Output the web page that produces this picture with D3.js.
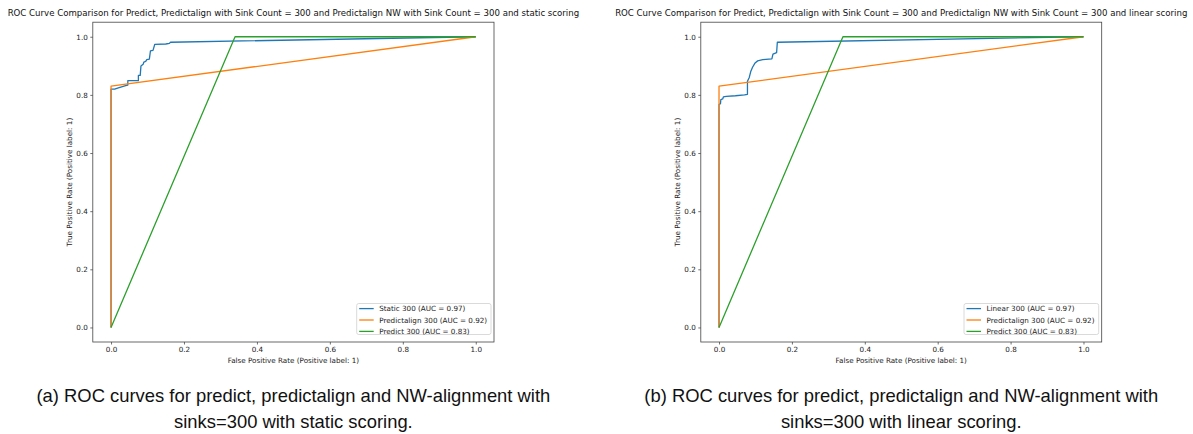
<!DOCTYPE html>
<html>
<head>
<meta charset="utf-8">
<script src="https://cdn.jsdelivr.net/npm/d3@7"></script>
<style>
  html, body { margin: 0; padding: 0; background: #fff; }
  svg { display: block; }
</style>
</head>
<body>
<svg id="chart" width="1193" height="434"></svg>
<script>
// ---------- Data ----------
const titles = [
  "ROC Curve Comparison for Predict, Predictalign with Sink Count = 300 and Predictalign NW with Sink Count = 300 and static scoring",
  "ROC Curve Comparison for Predict, Predictalign with Sink Count = 300 and Predictalign NW with Sink Count = 300 and linear scoring"
];
const captionsA = ["(a) ROC curves for predict, predictalign and NW-alignment with", "sinks=300 with static scoring."];
const captionsB = ["(b) ROC curves for predict, predictalign and NW-alignment with", "sinks=300 with linear scoring."];
const xLabel = "False Positive Rate (Positive label: 1)";
const yLabel = "True Positive Rate (Positive label: 1)";
const tickValues = [0.0, 0.2, 0.4, 0.6, 0.8, 1.0];

const legendStatic = ["Static 300 (AUC = 0.97)", "Predictalign 300 (AUC = 0.92)", "Predict 300 (AUC = 0.83)"];
const legendLinear = ["Linear 300 (AUC = 0.97)", "Predictalign 300 (AUC = 0.92)", "Predict 300 (AUC = 0.83)"];

// Static scoring (blue) ROC points [fpr, tpr]
const staticFpr = [0, 0, 0.010, 0.020, 0.040, 0.046, 0.046, 0.075, 0.075, 0.080, 0.082, 0.088, 0.090, 0.095, 0.098, 0.105, 0.108, 0.115, 0.120, 0.150, 0.160, 0.163, 1];
const staticTpr = [0, 0.820, 0.820, 0.824, 0.832, 0.834, 0.849, 0.849, 0.867, 0.867, 0.899, 0.905, 0.913, 0.915, 0.921, 0.923, 0.951, 0.953, 0.974, 0.975, 0.977, 0.981, 1];

// Linear scoring (blue) ROC points
const linearFpr = [0, 0, 0.004, 0.005, 0.010, 0.012, 0.020, 0.045, 0.070, 0.078, 0.078, 0.083, 0.087, 0.092, 0.099, 0.106, 0.120, 0.145, 0.148, 0.158, 0.160, 1];
const linearTpr = [0, 0.767, 0.770, 0.784, 0.786, 0.793, 0.795, 0.797, 0.800, 0.802, 0.847, 0.860, 0.880, 0.895, 0.910, 0.917, 0.921, 0.924, 0.940, 0.945, 0.981, 1];

// Predictalign 300 (orange)
const predictalignFpr = [0, 0, 1];
const predictalignTpr = [0, 0.83, 1];

// Predict 300 (green)
const predictFpr = [0, 0.34, 1];
const predictTpr = [0, 1, 1];

const colors = ["#1f77b4", "#ff7f0e", "#2ca02c"];

// ---------- Drawing ----------
const svg = d3.select("#chart");
const plotFont = "DejaVu Sans, sans-serif";
const capFont = "Liberation Sans, Arial, sans-serif";

const panels = [
  { left: 92.8, right: 494, title: titles[0], caption: captionsA, legend: legendStatic,
    blueF: staticFpr, blueT: staticTpr, legX: 356.7 },
  { left: 700.8, right: 1101.7, title: titles[1], caption: captionsB, legend: legendLinear,
    blueF: linearFpr, blueT: linearTpr, legX: 964 }
];
const plotTop = 22.2, plotBottom = 342;

const zip = (a, b) => a.map((v, i) => [v, b[i]]);

panels.forEach(p => {
  const x = d3.scaleLinear().domain([-0.05, 1.05]).range([p.left, p.right]);
  const y = d3.scaleLinear().domain([-0.05, 1.05]).range([plotBottom, plotTop]);
  const g = svg.append("g");
  const cx = (p.left + p.right) / 2;

  // Title
  g.append("text").attr("x", cx).attr("y", 16)
    .attr("text-anchor", "middle").attr("font-family", plotFont)
    .attr("font-size", 8.6).attr("fill", "#111").text(p.title);

  // Curves
  const line = d3.line().x(d => x(d[0])).y(d => y(d[1]));
  const series = [
    zip(p.blueF, p.blueT),
    zip(predictalignFpr, predictalignTpr),
    zip(predictFpr, predictTpr)
  ];
  const clip = "clip" + Math.round(p.left);
  svg.append("clipPath").attr("id", clip).append("rect")
    .attr("x", p.left).attr("y", plotTop).attr("width", p.right - p.left).attr("height", plotBottom - plotTop);
  series.forEach((s, i) => {
    g.append("path").datum(s).attr("d", line)
      .attr("fill", "none").attr("stroke", colors[i])
      .attr("stroke-width", 1.3).attr("stroke-linejoin", "round")
      .attr("clip-path", `url(#${clip})`);
  });

  // Axes
  const xAxis = d3.axisBottom(x).tickValues(tickValues).tickFormat(d3.format(".1f")).tickSize(2.5).tickPadding(2.5);
  const yAxis = d3.axisLeft(y).tickValues(tickValues).tickFormat(d3.format(".1f")).tickSize(2.5).tickPadding(2.5);
  const gx = g.append("g").attr("transform", `translate(0,${plotBottom})`).call(xAxis);
  const gy = g.append("g").attr("transform", `translate(${p.left},0)`).call(yAxis);
  [gx, gy].forEach(a => {
    a.select(".domain").remove();
    a.selectAll("line").attr("stroke", "#333").attr("stroke-width", 0.7);
    a.selectAll("text").attr("font-family", plotFont).attr("font-size", 7.2).attr("fill", "#222");
  });

  // Frame
  g.append("rect").attr("x", p.left).attr("y", plotTop)
    .attr("width", p.right - p.left).attr("height", plotBottom - plotTop)
    .attr("fill", "none").attr("stroke", "#444").attr("stroke-width", 0.8);

  // Axis labels
  g.append("text").attr("x", cx).attr("y", 363)
    .attr("text-anchor", "middle").attr("font-family", plotFont)
    .attr("font-size", 7.2).attr("fill", "#222").text(xLabel);
  g.append("text")
    .attr("transform", `translate(${p.left - 21},${(plotTop + plotBottom) / 2}) rotate(-90)`)
    .attr("text-anchor", "middle").attr("font-family", plotFont)
    .attr("font-size", 7.2).attr("fill", "#222").text(yLabel);

  // Legend
  const lg = g.append("g");
  lg.append("rect").attr("x", p.legX).attr("y", 303.5)
    .attr("width", p.right - 3 - p.legX).attr("height", 31)
    .attr("rx", 2).attr("fill", "#fff").attr("fill-opacity", 0.8)
    .attr("stroke", "#d0d0d0").attr("stroke-width", 0.8);
  p.legend.forEach((t, i) => {
    const yy = 308.6 + i * 11.4;
    lg.append("line").attr("x1", p.legX + 2.5).attr("x2", p.legX + 17)
      .attr("y1", yy).attr("y2", yy).attr("stroke", colors[i]).attr("stroke-width", 1.3);
    lg.append("text").attr("x", p.legX + 22.5).attr("y", yy + 2.6)
      .attr("font-family", plotFont).attr("font-size", 7.2).attr("fill", "#222").text(t);
  });

  // Caption
  p.caption.forEach((t, i) => {
    g.append("text").attr("x", cx).attr("y", 402 + i * 26)
      .attr("text-anchor", "middle").attr("font-family", capFont)
      .attr("font-size", 18.4).attr("fill", "#111").text(t);
  });
});
</script>
</body>
</html>
